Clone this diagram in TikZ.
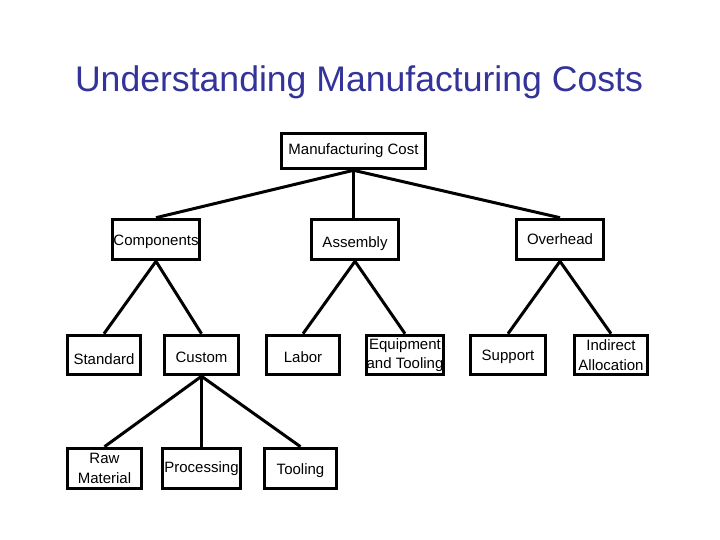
\documentclass[tikz,border=0pt]{standalone}
\usepackage{fontspec}
\setmainfont{Liberation Sans}
\definecolor{titleblue}{RGB}{51,51,153}
\newcommand{\lowered}[2]{\raisebox{-#1}[\height][\depth]{#2}}
\tikzset{
  box/.style={draw=black, line width=3.6pt, fill=white, inner sep=0pt, align=center,
    font=\fontsize{15}{19.5}\selectfont, minimum height=39pt},
  link/.style={draw=black, line width=3pt}
}
\begin{document}
\begin{tikzpicture}[x=1pt,y=-1pt]
\useasboundingbox (0,0) rectangle (720,540);
\node[font=\fontsize{35.6}{40}\selectfont, text=titleblue, anchor=base] (title) at (359,92) {Understanding Manufacturing Costs};
% level 0
\node[box, minimum width=144pt, minimum height=35pt] (mc) at (353.5,151) {Manufacturing Cost};
% level 1
\node[box, minimum width=87pt, minimum height=40pt] (comp) at (156,239.5) {\lowered{2pt}{Components}};
\node[box, minimum width=87pt, minimum height=40pt] (asm) at (355,239.5) {\lowered{4pt}{Assembly}};
\node[box, minimum width=87pt, minimum height=40pt] (ovh) at (560,239.5) {Overhead};
% level 2
\node[box, minimum width=73pt] (std) at (104,355) {\lowered{4pt}{Standard}};
\node[box, minimum width=74pt] (cus) at (201.5,355) {\lowered{2pt}{Custom}};
\node[box, minimum width=73pt] (lab) at (303,355) {\lowered{2pt}{Labor}};
\node[box, minimum width=77pt] (equ) at (405,355) {Equipment\\and Tooling};
\node[box, minimum width=75pt] (sup) at (508,355) {\lowered{2pt}{Support}};
\node[box, minimum width=73pt] (ind) at (611,355) {Indirect\\Allocation};
% level 3
\node[box, minimum width=74pt, minimum height=40pt] (raw) at (104.5,468.5) {Raw\\Material};
\node[box, minimum width=78pt, minimum height=40pt] (pro) at (201.5,468.5) {Processing};
\node[box, minimum width=72pt, minimum height=40pt] (too) at (300.5,468.5) {\lowered{2pt}{Tooling}};
% connectors
\draw[link] (mc.south) -- (comp.north);
\draw[link] (mc.south) -- (mc.south |- asm.north);
\draw[link] (mc.south) -- (ovh.north);
\draw[link] (comp.south) -- (std.north);
\draw[link] (comp.south) -- (cus.north);
\draw[link] (asm.south) -- (lab.north);
\draw[link] (asm.south) -- (equ.north);
\draw[link] (ovh.south) -- (sup.north);
\draw[link] (ovh.south) -- (ind.north);
\draw[link] (cus.south) -- (raw.north);
\draw[link] (cus.south) -- (pro.north);
\draw[link] (cus.south) -- (too.north);
\end{tikzpicture}
\end{document}
